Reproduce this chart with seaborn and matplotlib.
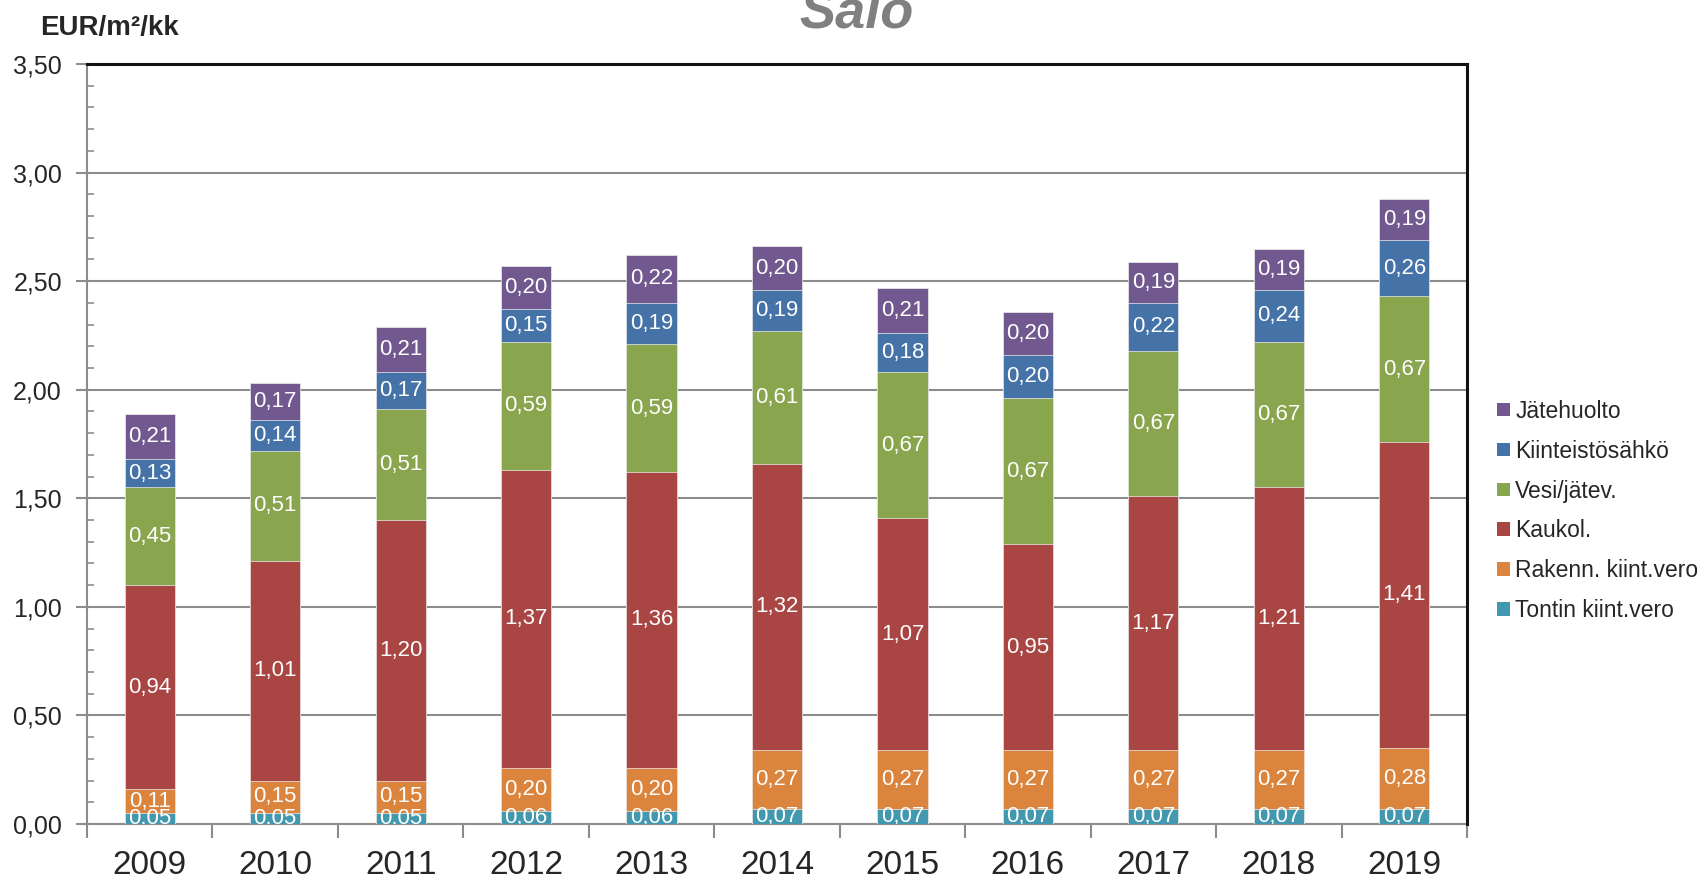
import numpy as np
import pandas as pd
import matplotlib
matplotlib.use('Agg')
import matplotlib.pyplot as plt
import seaborn as sns
from matplotlib.ticker import MultipleLocator, FuncFormatter, FixedLocator
from matplotlib.patches import Patch


years = ['2009', '2010', '2011', '2012', '2013', '2014', '2015', '2016', '2017', '2018', '2019']
tontin = [0.05, 0.05, 0.05, 0.06, 0.06, 0.07, 0.07, 0.07, 0.07, 0.07, 0.07]
rakenn = [0.11, 0.15, 0.15, 0.20, 0.20, 0.27, 0.27, 0.27, 0.27, 0.27, 0.28]
kaukol = [0.94, 1.01, 1.20, 1.37, 1.36, 1.32, 1.07, 0.95, 1.17, 1.21, 1.41]
vesi = [0.45, 0.51, 0.51, 0.59, 0.59, 0.61, 0.67, 0.67, 0.67, 0.67, 0.67]
sahko = [0.13, 0.14, 0.17, 0.15, 0.19, 0.19, 0.18, 0.20, 0.22, 0.24, 0.26]
jate = [0.21, 0.17, 0.21, 0.20, 0.22, 0.20, 0.21, 0.20, 0.19, 0.19, 0.19]

series_names = ['Tontin kiint.vero', 'Rakenn. kiint.vero', 'Kaukol.', 'Vesi/jätev.',
                'Kiinteistösähkö', 'Jätehuolto']
series_colors = ['#4198AF', '#DB843D', '#A94543', '#89A54E', '#4572A7', '#71588F']

df = pd.DataFrame({'year': years})
for name, vals in zip(series_names, [tontin, rakenn, kaukol, vesi, sahko, jate]):
    df[name] = vals

sns.set_style('white')
plt.rcParams['font.family'] = ['Liberation Sans', 'DejaVu Sans']

fig = plt.figure(figsize=(17.04, 8.8), dpi=100)
ax = fig.add_axes([87 / 1704, 1 - 824 / 880, (1467 - 87) / 1704, (824 - 64) / 880])

# stacked bars: draw cumulative totals from the top layer downwards
cum = df[series_names].cumsum(axis=1)
for name, color in reversed(list(zip(series_names, series_colors))):
    sns.barplot(x=df['year'], y=cum[name], color=color, width=0.4, saturation=1,
                edgecolor='#eeeeee', linewidth=0.5, ax=ax, zorder=3)

# value labels in the middle of each segment
for name in series_names:
    for i, v in enumerate(df[name]):
        mid = cum[name].iloc[i] - v / 2
        ax.text(i, mid, f'{v:.2f}'.replace('.', ','), ha='center', va='center',
                color='white', fontsize=16, zorder=5, clip_on=True)

ax.set_ylim(0, 3.5)
ax.set_xlim(-0.5, len(years) - 0.5)
ax.yaxis.set_major_locator(MultipleLocator(0.5))
ax.yaxis.set_minor_locator(MultipleLocator(0.1))
ax.yaxis.set_major_formatter(FuncFormatter(lambda v, p: f'{v:.2f}'.replace('.', ',')))
ax.grid(axis='y', color='#8c8c8c', linewidth=1.5, zorder=0)
ax.set_axisbelow(True)

ax.tick_params(axis='y', which='major', direction='out', length=8, width=1.5,
               color='#8c8c8c', labelsize=18, pad=10, left=True)
ax.tick_params(axis='y', which='minor', direction='in', length=5, width=1.2,
               color='#8c8c8c', left=True)
ax.xaxis.set_minor_locator(FixedLocator(np.arange(-0.5, len(years), 1.0)))
ax.tick_params(axis='x', which='major', length=0, labelsize=24, pad=19)
ax.tick_params(axis='x', which='minor', direction='out', length=10, width=1.5,
               color='#8c8c8c', bottom=True)

for side in ['left', 'bottom']:
    ax.spines[side].set_color('#8c8c8c')
    ax.spines[side].set_linewidth(1.5)
for side in ['top', 'right']:
    ax.spines[side].set_color('#111111')
    ax.spines[side].set_linewidth(2.2)
    ax.spines[side].set_zorder(6)

ax.set_xlabel('')
ax.set_ylabel('')

fig.text(40 / 1704, 1 - 35 / 880, 'EUR/m²/kk', fontsize=20, fontweight='bold',
         ha='left', va='baseline')
fig.text(857 / 1704, 1 - 28 / 880, 'Salo', fontsize=39, fontweight='bold',
         fontstyle='italic', color='#808080', ha='center', va='baseline')

handles = [Patch(facecolor=c, edgecolor='none') for c in series_colors]
fig.legend(handles[::-1], series_names[::-1], loc='center left',
           bbox_to_anchor=(1497 / 1704, 1 - 511 / 880), frameon=False,
           fontsize=16.5, handlelength=0.55, handleheight=0.55, handletextpad=0.25,
           labelspacing=0.74, borderpad=0, borderaxespad=0)

fig.savefig('out.png', dpi=100)
